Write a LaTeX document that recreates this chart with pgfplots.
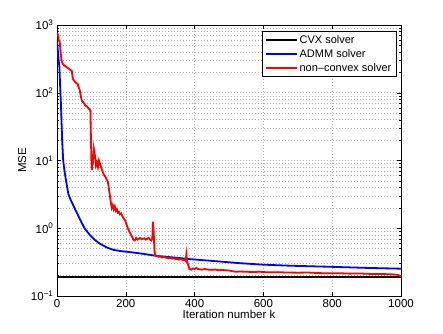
\documentclass[border=0pt]{standalone}
\usepackage{fontspec}
\setmainfont{Liberation Sans}
\usepackage{pgfplots}
\pgfplotsset{compat=1.18}

\begin{document}
\begin{tikzpicture}
\begin{axis}[
  scale only axis, width=344pt, height=271pt,
  xmin=0, xmax=1000, ymin=0.1, ymax=1000,
  ymode=log,
  xtick={0,200,400,600,800,1000},
  ytick={0.1,1,10,100,1000},
  yticklabels={10\textsuperscript{−1},10\textsuperscript{0},10\textsuperscript{1},10\textsuperscript{2},10\textsuperscript{3}},
  /pgf/number format/assume math mode=true,
  /pgf/number format/1000 sep={},
  tick align=inside, major tick length=4pt, minor tick length=2pt,
  grid=both,
  major grid style={gray!65, line width=0.5pt, dash pattern=on 0.6pt off 2.4pt},
  minor grid style={gray!65, line width=0.5pt, dash pattern=on 0.6pt off 2.4pt},
  axis line style={black, line width=0.5pt},
  tick style={black, line width=0.4pt},
  tick label style={font=\fontsize{11.5}{13}\selectfont},
  label style={font=\fontsize{11.5}{13}\selectfont},
  xlabel={Iteration number k},
  ylabel={MSE},
  xlabel style={yshift=4pt},
  ylabel style={yshift=-2pt},
  legend style={at={(rel axis cs:0.987,0.978)}, anchor=north east,
    font=\fontsize{11}{13}\selectfont, draw=black, fill=white,
    inner xsep=3pt, inner ysep=2pt, row sep=0.5pt},
  legend cell align=left,
  legend image code/.code={\draw[#1] (0cm,0cm) -- (31pt,0cm);},
]
\addplot[black, line width=1.9pt] coordinates {(0,0.189) (1000,0.189)};
\addplot[blue, line width=1.8pt] coordinates {
(0,600) (2,450) (4,330) (7,240) (9,130) (11,78) (13,40) (15,20) (18,10) (21,7.5) (25,5.5) (29,4.2) (33,3.2)
(40,2.6) (47,2.2) (55,1.8) (67,1.35) (80,1.0) (96,0.79) (110,0.67) (125,0.59) (145,0.52) (164,0.48)
(185,0.46) (203,0.45) (250,0.42) (290,0.39) (340,0.37) (387,0.35) (450,0.33) (532,0.305) (600,0.29)
(677,0.28) (794,0.27) (900,0.26) (1000,0.253)};
\addplot[red, line width=1.8pt] coordinates {
(0,750) (3,720) (5,600) (8,560) (10,420) (13,300) (16,270) (20,255) (25,245) (30,235) (35,225) (40,215)
(43,210) (46,160) (50,150) (55,140) (60,135) (63,120) (66,110) (70,85) (73,75) (77,72) (82,65) (88,62)
(93,58) (97,55) (100,10) (101,7.2) (104,9) (107,15) (110,12) (113,8.5) (116,9.5) (119,8) (122,10)
(125,9) (128,8) (132,7) (136,6.2) (140,5.8) (144,5.3) (148,4.8) (152,3.5) (156,2.5) (159,2.0) (162,2.2)
(165,1.9) (168,2.1) (171,1.8) (174,1.9) (177,1.7) (180,1.75) (183,1.6) (187,1.65) (190,1.5) (194,1.4)
(198,1.3) (202,1.15) (206,1.0) (210,0.9) (214,0.82) (218,0.75) (222,0.68) (226,0.66) (230,0.72)
(234,0.68) (238,0.70) (242,0.72) (246,0.69) (250,0.70) (254,0.71) (258,0.68) (262,0.70) (266,0.72)
(270,0.69) (274,0.66) (277,0.70) (279,1.25) (281,0.9) (283,0.5) (285,0.40) (290,0.39) (295,0.38)
(300,0.385) (305,0.37) (310,0.38) (315,0.37) (320,0.365) (325,0.36) (330,0.37) (335,0.355) (340,0.36)
(345,0.35) (350,0.355) (355,0.345) (360,0.35) (365,0.34) (370,0.345) (374,0.33) (376,0.41) (378,0.33)
(381,0.29) (385,0.25) (390,0.245) (395,0.255) (400,0.25) (405,0.26) (410,0.25) (420,0.245) (430,0.25)
(440,0.245) (450,0.243) (460,0.246) (470,0.24) (480,0.242) (490,0.24) (500,0.238) (510,0.232)
(520,0.228) (530,0.23) (550,0.228) (570,0.226) (590,0.228) (610,0.224) (640,0.225) (670,0.222)
(700,0.221) (730,0.222) (760,0.218) (790,0.216) (820,0.217) (850,0.214) (880,0.215) (910,0.212)
(940,0.211) (960,0.21) (980,0.208) (990,0.205) (1000,0.195)};
\legend{CVX solver, ADMM solver, non{\textendash}convex solver}
\end{axis}
\path (current axis.south west) ++(-57pt,-37pt);
\path (current axis.north east) ++(42pt,25pt);
\end{tikzpicture}
\end{document}
